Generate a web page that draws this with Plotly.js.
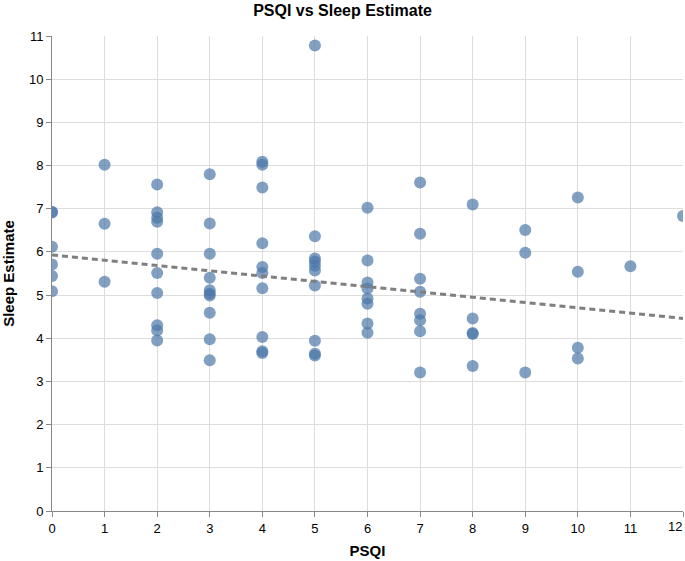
<!DOCTYPE html>
<html>
<head>
<meta charset="utf-8">
<script src="https://cdn.plot.ly/plotly-3.0.1.min.js"></script>
<style>html,body{margin:0;padding:0;background:#fff;overflow:hidden;}#chart{width:685px;height:561px;}</style>
</head>
<body>
<div id="chart"></div>
<script>
// PSQI score for each participant
const psqi = [
  0,0,0,0,0,0,
  1,1,1,
  2,2,2,2,2,2,2,2,2,2,
  3,3,3,3,3,3,3,3,3,3,
  4,4,4,4,4,4,4,4,4,4,
  5,5,5,5,5,5,5,5,5,5,
  6,6,6,6,6,6,6,6,
  7,7,7,7,7,7,7,7,
  8,8,8,8,8,
  9,9,9,
  10,10,10,10,
  11,
  12
];
// Sleep estimate (hours) for each participant
const sleepEstimate = [
  6.93,6.91,6.12,5.71,5.44,5.09,
  8.02,6.65,5.31,
  7.56,6.92,6.79,6.70,5.96,5.51,5.05,4.30,4.18,3.95,
  7.80,6.66,5.96,5.40,5.11,5.03,4.99,4.59,3.98,3.49,
  8.09,8.02,7.49,6.20,5.65,5.51,5.16,4.03,3.70,3.66,
  10.78,6.36,5.85,5.78,5.68,5.57,5.22,3.94,3.64,3.60,
  7.02,5.80,5.29,5.15,4.92,4.80,4.34,4.13,
  7.61,6.42,5.38,5.08,4.57,4.42,4.16,3.21,
  7.10,4.46,4.12,4.10,3.36,
  6.51,5.98,3.21,
  7.26,5.54,3.78,3.53,
  5.67,
  6.83
];
// Trend line end points
const trendX = [0, 12];
const trendY = [5.93, 4.46];

const xTicks = [0,1,2,3,4,5,6,7,8,9,10,11,12];
const yTicks = [0,1,2,3,4,5,6,7,8,9,10,11];

const font = 'Liberation Sans, Arial, Helvetica, sans-serif';
const lastX = xTicks[xTicks.length-1];
const data = [
  {
    type:'scatter', mode:'markers', x: psqi, y: sleepEstimate,
    marker:{color:'#4c78a8', opacity:0.7, size:12, line:{width:0}},
    cliponaxis:true, hoverinfo:'x+y'
  },
  {
    type:'scatter', mode:'lines', x: trendX, y: trendY,
    line:{color:'#7f7f7f', width:3, dash:'6px,4px'}, hoverinfo:'skip'
  }
];
const axisCommon = {
  showgrid:true, gridcolor:'#dddddd', gridwidth:1,
  showline:true, linecolor:'#888888', linewidth:1,
  ticks:'outside', ticklen:5, tickcolor:'#888888', tickwidth:1,
  zeroline:false, tickfont:{family:font, size:13, color:'#000'},
  fixedrange:true
};
const layout = {
  width:685, height:561,
  margin:{l:52, r:2, t:36, b:50},
  paper_bgcolor:'#fff', plot_bgcolor:'#fff',
  showlegend:false,
  title:{text:'<b>PSQI vs Sleep Estimate</b>', font:{family:font, size:16, color:'#000'}, x:0.5, xanchor:'center', y:0.992, yanchor:'top'},
  xaxis:Object.assign({}, axisCommon, {range:[0,12], tickvals:xTicks,
    ticktext:xTicks.map(v => v === lastX ? '' : String(v)),
    title:{text:'<b>PSQI</b>', font:{family:font, size:15, color:'#000'}, standoff:10}}),
  yaxis:Object.assign({}, axisCommon, {range:[0,11], tickvals:yTicks, ticktext:yTicks.map(String),
    title:{text:'<b>Sleep Estimate</b>', font:{family:font, size:15, color:'#000'}, standoff:10}}),
  annotations:[{
    // last x tick label, flush right against its tick like the reference
    x:lastX, xref:'x', y:0, yref:'y', text:String(lastX), showarrow:false,
    xanchor:'right', yanchor:'top', yshift:-6, xshift:1,
    font:{family:font, size:13, color:'#000'}
  }]
};
Plotly.newPlot('chart', data, layout, {displayModeBar:false, staticPlot:true});
</script>
</body>
</html>
